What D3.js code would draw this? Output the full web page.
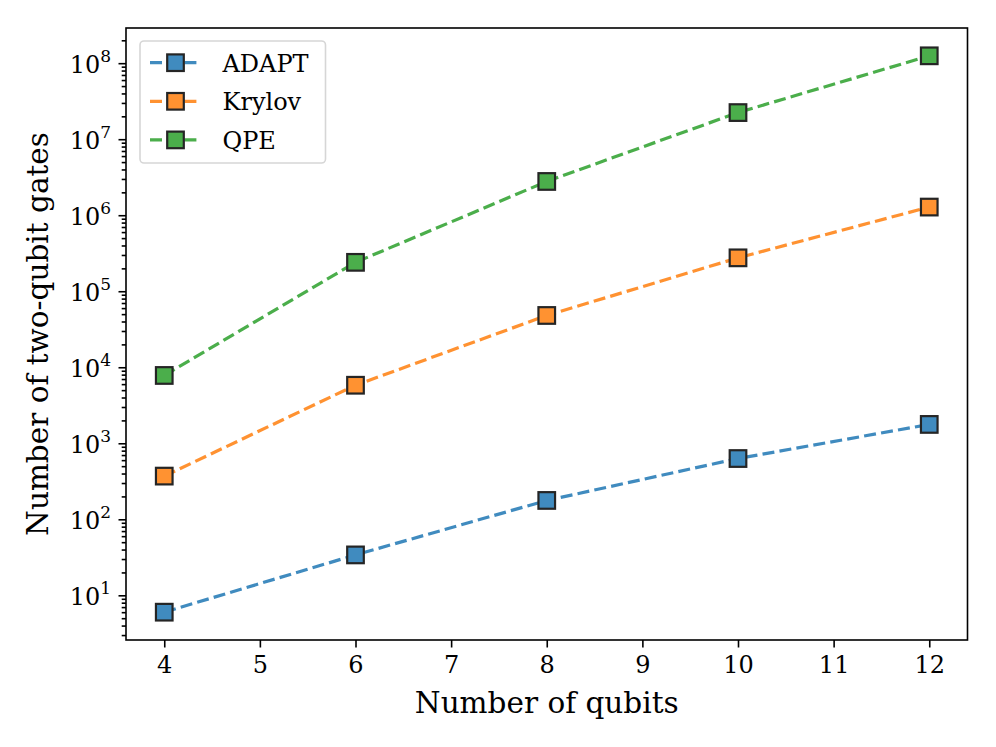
<!DOCTYPE html>
<html>
<head>
<meta charset="utf-8">
<script src="https://cdn.jsdelivr.net/npm/d3@7"></script>
<style>
  body { margin: 0; background: #fff; }
  svg text { font-family: "DejaVu Serif", serif; fill: #000; }
</style>
</head>
<body>
<svg id="chart" width="996" height="747"></svg>
<script>
const qubits = [4, 6, 8, 10, 12];
const adapt = [6, 34, 177, 630, 1770];
const krylov = [370, 5800, 48000, 275000, 1280000];
const qpe = [7800, 240000, 2780000, 22400000, 125000000];
const seriesNames = ['ADAPT', 'Krylov', 'QPE'];
const xTicks = [4, 5, 6, 7, 8, 9, 10, 11, 12];
const yExponents = [1, 2, 3, 4, 5, 6, 7, 8];

const series = [
  {name: seriesNames[0], values: adapt, color: '#1f77b4'},
  {name: seriesNames[1], values: krylov, color: '#ff7f0e'},
  {name: seriesNames[2], values: qpe, color: '#2ca02c'}
];

const plotLeft = 126, plotRight = 967.5, plotTop = 28, plotBottom = 640;
const svg = d3.select('#chart');

// matplotlib-style 5% margins
const xPad = (d3.max(qubits) - d3.min(qubits)) * 0.05;
const xScale = d3.scaleLinear().domain([d3.min(qubits) - xPad, d3.max(qubits) + xPad]).range([plotLeft, plotRight]);
const allVals = adapt.concat(krylov, qpe);
const lMin = Math.log10(d3.min(allVals)), lMax = Math.log10(d3.max(allVals));
const lPad = (lMax - lMin) * 0.05;
const yScale = d3.scaleLog().domain([Math.pow(10, lMin - lPad), Math.pow(10, lMax + lPad)]).range([plotBottom, plotTop]);

// minor ticks
const yDomain = yScale.domain();
const minors = [];
for (let e = 0; e <= 9; e++) {
  for (let m = 2; m <= 9; m++) {
    const v = m * Math.pow(10, e);
    if (v >= yDomain[0] && v <= yDomain[1]) minors.push(v);
  }
}

const xAxisGroup = svg.append('g').attr('transform', `translate(0, ${plotBottom})`);
xAxisGroup.call(d3.axisBottom(xScale).tickValues(xTicks).tickSize(7.5).tickPadding(8).tickFormat(d3.format('d')));
xAxisGroup.selectAll('text').attr('font-size', 24).attr('font-family', 'DejaVu Serif');

const yMinorGroup = svg.append('g').attr('transform', `translate(${plotLeft}, 0)`);
yMinorGroup.call(d3.axisLeft(yScale).tickValues(minors).tickSize(4.3).tickFormat(''));

const yAxisGroup = svg.append('g').attr('transform', `translate(${plotLeft}, 0)`);
yAxisGroup.call(d3.axisLeft(yScale).tickValues(yExponents.map(e => Math.pow(10, e))).tickSize(7.5).tickPadding(8).tickFormat(''));
yAxisGroup.selectAll('.tick').each(function(d, i) {
  const t = d3.select(this).append('text')
    .attr('x', -15).attr('y', 9)
    .attr('text-anchor', 'end').attr('font-size', 24).attr('fill', '#000');
  t.append('tspan').text('10');
  t.append('tspan').attr('font-size', 17).attr('dy', -11).text(yExponents[i]);
});

[xAxisGroup, yAxisGroup, yMinorGroup].forEach(g => {
  g.select('.domain').remove();
  g.selectAll('line').attr('stroke', '#000').attr('stroke-width', 1.6);
});

// lines and markers
const lineDescriber = d3.line().x((d, i) => xScale(qubits[i])).y(d => yScale(d));
const plot = svg.append('g');
series.forEach(s => {
  const g = plot.append('g').attr('opacity', 0.85);
  g.append('path').attr('d', lineDescriber(s.values)).attr('fill', 'none')
    .attr('stroke', s.color).attr('stroke-width', 3.2).attr('stroke-dasharray', '12,5.2');
  g.selectAll('rect').data(s.values).enter().append('rect')
    .attr('x', (d, i) => xScale(qubits[i]) - 8.3).attr('y', d => yScale(d) - 8.3)
    .attr('width', 16.6).attr('height', 16.6)
    .attr('fill', s.color).attr('stroke', '#000').attr('stroke-width', 2.2);
});

// frame
svg.append('rect').attr('x', plotLeft).attr('y', plotTop).attr('width', plotRight - plotLeft).attr('height', plotBottom - plotTop)
  .attr('fill', 'none').attr('stroke', '#000').attr('stroke-width', 1.6);

// legend
const legend = svg.append('g');
legend.append('rect').attr('x', 140).attr('y', 41).attr('width', 185.5).attr('height', 122)
  .attr('rx', 4).attr('fill', '#fff').attr('fill-opacity', 0.8).attr('stroke', '#d6d6d6').attr('stroke-width', 1.6);
series.forEach((s, i) => {
  const cy = 62.7 + i * 38.6;
  const g = legend.append('g').attr('opacity', 0.85);
  g.append('line').attr('x1', 150).attr('x2', 201.5).attr('y1', cy).attr('y2', cy)
    .attr('stroke', s.color).attr('stroke-width', 3.2).attr('stroke-dasharray', '12,5.2');
  g.append('rect').attr('x', 175.5 - 8.3).attr('y', cy - 8.3).attr('width', 16.6).attr('height', 16.6)
    .attr('fill', s.color).attr('stroke', '#000').attr('stroke-width', 2.2);
  legend.append('text').attr('x', 222.5).attr('y', cy + 9).attr('font-size', 24).text(s.name);
});

// axis labels
svg.append('text').attr('x', (plotLeft + plotRight) / 2).attr('y', 713).attr('text-anchor', 'middle')
  .attr('font-size', 29.5).text('Number of qubits');
svg.append('text').attr('transform', `translate(48, ${(plotTop + plotBottom) / 2}) rotate(-90)`)
  .attr('text-anchor', 'middle').attr('font-size', 29.5).text('Number of two-qubit gates');
</script>
</body>
</html>
